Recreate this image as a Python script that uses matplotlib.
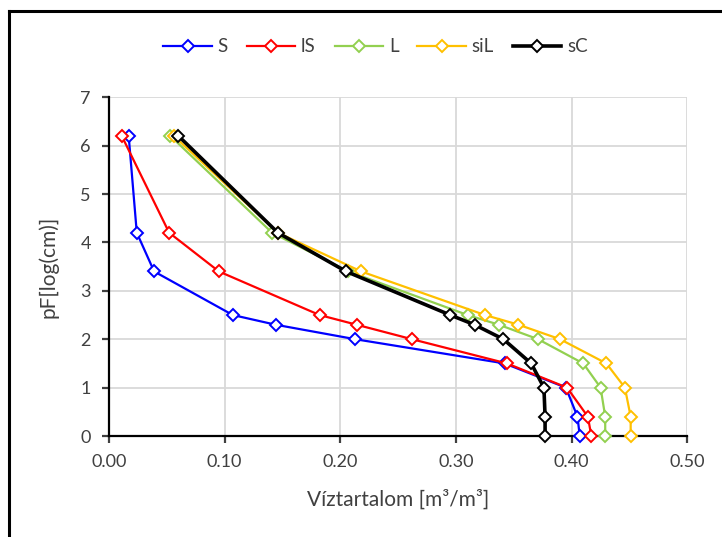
import matplotlib
matplotlib.use("Agg")
import matplotlib.pyplot as plt
from matplotlib.lines import Line2D

pF = [6.2, 4.2, 3.4, 2.5, 2.3, 2.0, 1.5, 1.0, 0.4, 0.0]
S = [0.017, 0.024, 0.039, 0.107, 0.144, 0.213, 0.342, 0.395, 0.405, 0.407]
lS = [0.011, 0.052, 0.095, 0.182, 0.214, 0.262, 0.344, 0.396, 0.414, 0.417]
L = [0.053, 0.141, 0.207, 0.310, 0.337, 0.371, 0.410, 0.425, 0.429, 0.429]
siL = [0.056, 0.146, 0.218, 0.325, 0.354, 0.390, 0.430, 0.446, 0.451, 0.451]
sC = [0.060, 0.146, 0.205, 0.295, 0.316, 0.341, 0.365, 0.376, 0.377, 0.377]

series = [("S", S, "#0000FF", 1.6), ("lS", lS, "#FF0000", 1.6),
          ("L", L, "#92D050", 1.6), ("siL", siL, "#FFC000", 1.6),
          ("sC", sC, "#000000", 2.6)]

xticks = [0.0, 0.1, 0.2, 0.3, 0.4, 0.5]
yticks = [0, 1, 2, 3, 4, 5, 6, 7]

plt.rcParams['font.family'] = ['Lato', 'DejaVu Sans']

fig = plt.figure(figsize=(7.22, 5.37), dpi=100)
ax = fig.add_axes([0.151, 0.188, 0.801, 0.631])

for name, vals, col, lw in series:
    ax.plot(vals, pF, color=col, lw=lw, marker='D', markersize=6.5,
            markerfacecolor='white', markeredgecolor=col, markeredgewidth=1.4,
            label=name, zorder=3, clip_on=False)

ax.set_xlim(0, 0.5)
ax.set_ylim(0, 7)
ax.set_xticks(xticks)
ax.set_xticklabels([f"{v:.2f}" for v in xticks])
ax.set_yticks(yticks)
ax.grid(True, color='#d9d9d9', lw=1.3)
ax.set_axisbelow(True)
for s in ['top', 'right']:
    ax.spines[s].set_visible(False)
for s in ['left', 'bottom']:
    ax.spines[s].set_color('black')
    ax.spines[s].set_linewidth(1.6)
ax.tick_params(axis='both', direction='out', length=5, width=1.6,
               labelsize=13, colors='#404040', labelcolor='#404040')
ax.tick_params(axis='x', pad=8)
ax.tick_params(axis='y', pad=8)
ax.set_xlabel("Víztartalom [m³/m³]", fontsize=15, color='#404040', labelpad=14)
ax.set_ylabel("pF[log(cm)]", fontsize=15, color='#404040', labelpad=16)

leg = fig.legend(loc='center', bbox_to_anchor=(0.52, 0.913), ncol=5,
                 frameon=False, fontsize=13.5, handlelength=2.6,
                 columnspacing=1.0, handletextpad=0.3, labelcolor='#404040')

# figure border (left and top visible)
fig.add_artist(Line2D([0.0125, 0.0125], [0, 0.98], transform=fig.transFigure,
                      color='black', lw=2.2))
fig.add_artist(Line2D([0.0125, 1.0], [0.98, 0.98], transform=fig.transFigure,
                      color='black', lw=2.2))

fig.savefig("out.png", dpi=100)
